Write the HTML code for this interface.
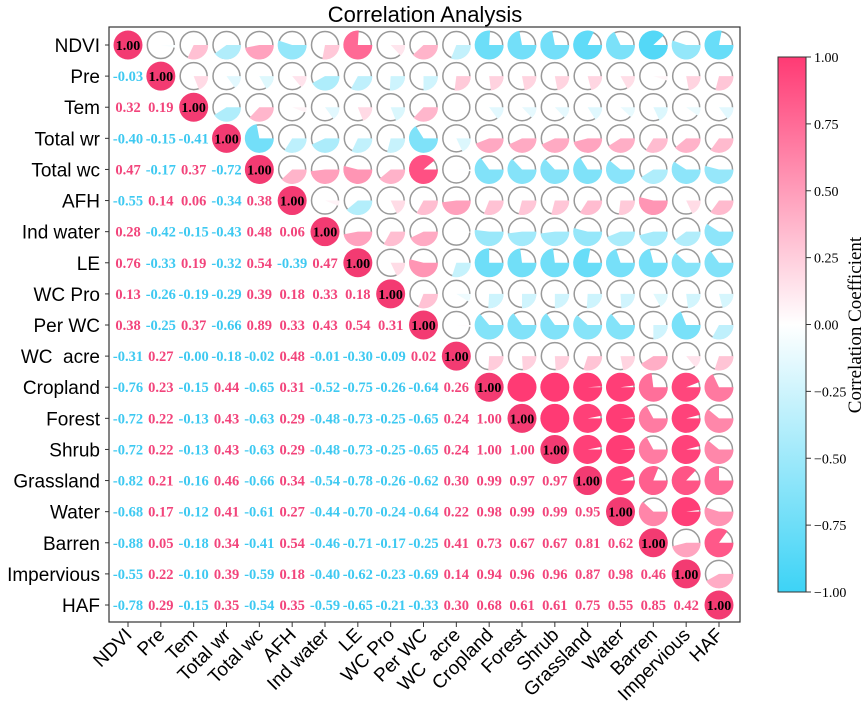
<!DOCTYPE html>
<html><head><meta charset="utf-8"><style>
html,body{margin:0;padding:0;background:#fff;}
svg{display:block;}
</style></head><body>
<svg id="chart" width="865" height="714" viewBox="0 0 865 714" xmlns="http://www.w3.org/2000/svg">
<defs>
<linearGradient id="cbg" x1="0" y1="1" x2="0" y2="0">
<stop offset="0" stop-color="#3dd3f6"/><stop offset="0.5" stop-color="#ffffff"/><stop offset="1" stop-color="#ff3a74"/>
</linearGradient>
</defs>
<text x="425" y="22" font-family="Liberation Sans, sans-serif" font-size="22" text-anchor="middle">Correlation Analysis</text>
<g id="cells"></g>
<rect x="109" y="27" width="631" height="595" fill="none" stroke="#333" stroke-width="1.2"/>
<g id="axes"></g>
<rect x="778" y="57" width="28" height="535" fill="url(#cbg)" stroke="#333" stroke-width="1"/>
<g id="cbticks"></g>
<text transform="translate(861,325) rotate(-90)" font-family="Liberation Serif, serif" font-size="19" text-anchor="middle">Correlation Coefficient</text>
</svg>
<script>
const labels = ["NDVI","Pre","Tem","Total wr","Total wc","AFH","Ind water","LE","WC Pro","Per WC","WC\u00a0\u00a0acre","Cropland","Forest","Shrub","Grassland","Water","Barren","Impervious","HAF"];
const lower = [
[],
[-0.03],
[0.32,0.19],
[-0.40,-0.15,-0.41],
[0.47,-0.17,0.37,-0.72],
[-0.55,0.14,0.06,-0.34,0.38],
[0.28,-0.42,-0.15,-0.43,0.48,0.06],
[0.76,-0.33,0.19,-0.32,0.54,-0.39,0.47],
[0.13,-0.26,-0.19,-0.29,0.39,0.18,0.33,0.18],
[0.38,-0.25,0.37,-0.66,0.89,0.33,0.43,0.54,0.31],
[-0.31,0.27,-0.001,-0.18,-0.02,0.48,-0.01,-0.30,-0.09,0.02],
[-0.76,0.23,-0.15,0.44,-0.65,0.31,-0.52,-0.75,-0.26,-0.64,0.26],
[-0.72,0.22,-0.13,0.43,-0.63,0.29,-0.48,-0.73,-0.25,-0.65,0.24,1.00],
[-0.72,0.22,-0.13,0.43,-0.63,0.29,-0.48,-0.73,-0.25,-0.65,0.24,1.00,1.00],
[-0.82,0.21,-0.16,0.46,-0.66,0.34,-0.54,-0.78,-0.26,-0.62,0.30,0.99,0.97,0.97],
[-0.68,0.17,-0.12,0.41,-0.61,0.27,-0.44,-0.70,-0.24,-0.64,0.22,0.98,0.99,0.99,0.95],
[-0.88,0.05,-0.18,0.34,-0.41,0.54,-0.46,-0.71,-0.17,-0.25,0.41,0.73,0.67,0.67,0.81,0.62],
[-0.55,0.22,-0.10,0.39,-0.59,0.18,-0.40,-0.62,-0.23,-0.69,0.14,0.94,0.96,0.96,0.87,0.98,0.46],
[-0.78,0.29,-0.15,0.35,-0.54,0.35,-0.59,-0.65,-0.21,-0.33,0.30,0.68,0.61,0.61,0.75,0.55,0.85,0.42]
];
const cbTicks = [1.00,0.75,0.50,0.25,0.00,-0.25,-0.50,-0.75,-1.00];
const cbTickLabels = ["1.00","0.75","0.50","0.25","0.00","\u22120.25","\u22120.50","\u22120.75","\u22121.00"];

const NS="http://www.w3.org/2000/svg";
const x0=128, dx=(719-128)/18, y0=45, dy=(605-45)/18;
const xPos=i=>x0+i*dx, yPos=i=>y0+i*dy;
const cbY=v=>57+(1-v)/2*535;
function val(i,j){ if(i===j) return 1; return i>j?lower[i][j]:lower[j][i]; }
function color(v){
  const a=Math.min(1,Math.abs(v));
  const t = v>=0?[255,58,116]:[61,211,246];
  const c=t.map(k=>Math.round(255+(k-255)*a));
  return `rgb(${c[0]},${c[1]},${c[2]})`;
}
function mk(tag,attrs,parent){const e=document.createElementNS(NS,tag);for(const k in attrs)e.setAttribute(k,attrs[k]);parent.appendChild(e);return e;}
const cells=document.getElementById('cells');
const axes=document.getElementById('axes');
const n=labels.length, R=14;
for(let i=0;i<n;i++){
  for(let j=0;j<n;j++){
    const cx=xPos(j), cy=yPos(i), v=val(i,j);
    if(i===j){
      const c=mk('circle',{cx:cx,cy:cy,r:R+0.5,fill:'#f33b72'},cells);
      
      
      const t=mk('text',{x:cx,y:cy+5,'font-family':'Liberation Serif, serif','font-weight':'bold','font-size':14,'text-anchor':'middle',fill:'#000'},cells);
      t.textContent='1.00';
      
      
    } else if(i>j){
      const t=mk('text',{x:cx,y:cy+5,'font-family':'Liberation Serif, serif','font-weight':'bold','font-size':14.5,'text-anchor':'middle',fill:v<0?'#3ec9f1':'#f2447b'},cells);
      t.textContent=(v<0?'-':'')+Math.abs(v).toFixed(2);
      
      
    } else {
      const g=mk('g',{},cells);
      
      
      mk('circle',{cx:cx,cy:cy,r:R-0.5,fill:'none',stroke:'#999','stroke-width':1.5},g);
      const a=Math.min(1,Math.abs(v));
      if(a>=0.999){ mk('circle',{cx:cx,cy:cy,r:R+0.5,fill:color(v)},g); }
      else if(a>0.005){
        const ang=a*2*Math.PI, r=R+0.5;
        const ex=cx+r*Math.cos(ang), ey=cy+r*Math.sin(ang);
        mk('path',{d:`M${cx},${cy} L${cx+r},${cy} A${r},${r} 0 ${ang>Math.PI?1:0} 1 ${ex},${ey} Z`,fill:color(v)},g);
      }
    }
  }
}
for(let i=0;i<n;i++){
  const t=mk('text',{x:100,y:yPos(i)+7,'font-family':'Liberation Sans, sans-serif','font-size':19,'text-anchor':'end'},axes);
  t.textContent=labels[i];
  
  
  mk('line',{x1:105,x2:109,y1:yPos(i),y2:yPos(i),stroke:'#333'},axes);
  mk('line',{x1:xPos(i),x2:xPos(i),y1:622,y2:627,stroke:'#333'},axes);
  const xl=mk('text',{transform:`translate(${xPos(i)+5},${636}) rotate(-45)`,'font-family':'Liberation Sans, sans-serif','font-size':19,'text-anchor':'end'},axes);
  xl.textContent=labels[i];
  
  
}
const cbt=document.getElementById('cbticks');
cbTicks.forEach((v,k)=>{
  mk('line',{x1:806,x2:811,y1:cbY(v),y2:cbY(v),stroke:'#333'},cbt);
  const t=mk('text',{x:814,y:cbY(v)+5,'font-family':'Liberation Serif, serif','font-size':14},cbt);
  t.textContent=cbTickLabels[k];
  
  
});
</script>
</body></html>
